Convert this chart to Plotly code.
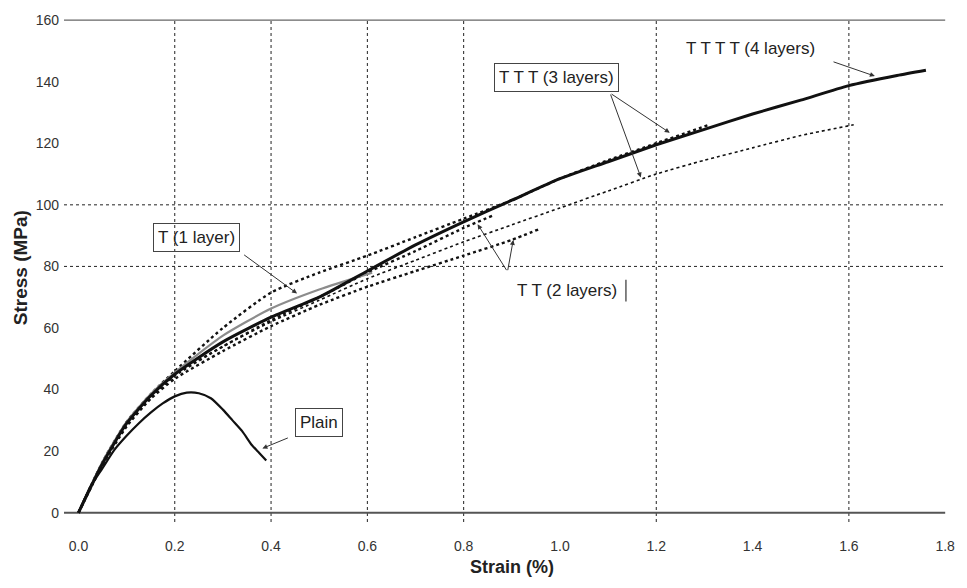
import plotly.graph_objects as go

# ---- stress-strain data (strain in %, stress in MPa) ----
plain_strain = [0, 0.025, 0.05, 0.075, 0.10, 0.125, 0.15, 0.175, 0.20, 0.225, 0.25, 0.275, 0.30, 0.32, 0.34, 0.36, 0.375, 0.39]
plain_stress = [0, 8.5, 14.5, 20.5, 25, 29, 32.5, 35.5, 37.8, 39, 38.8, 37.2, 33.5, 30, 26.5, 22, 19.5, 17]

t1_strain = [0, 0.05, 0.10, 0.15, 0.20, 0.30, 0.40, 0.50, 0.61]
t1_stress = [0, 16.5, 29.5, 38.5, 45.5, 57.5, 66.3, 72.5, 78]

tt_a_strain = [0, 0.05, 0.10, 0.15, 0.20, 0.30, 0.40, 0.50, 0.60, 0.70, 0.80, 0.90, 0.955]
tt_a_stress = [0, 15.5, 28, 37, 43.5, 52.5, 60.6, 67.5, 73.4, 78.5, 83.5, 88.6, 92]

tt_b_strain = [0, 0.05, 0.10, 0.15, 0.20, 0.30, 0.40, 0.50, 0.60, 0.70, 0.80, 0.86]
tt_b_stress = [0, 16, 28.5, 37.5, 44.5, 54, 62.5, 70, 78, 85, 92.5, 96.5]

ttt_a_strain = [0, 0.05, 0.10, 0.15, 0.20, 0.30, 0.40, 0.50, 0.60, 0.70, 0.80, 0.90, 1.00, 1.10, 1.20, 1.31]
ttt_a_stress = [0, 16.5, 29.5, 38.5, 46, 60, 71.5, 78, 83.5, 89.5, 95.5, 101.5, 108.5, 114.5, 120, 126]

ttt_b_strain = [0, 0.05, 0.10, 0.15, 0.20, 0.30, 0.40, 0.50, 0.60, 0.70, 0.80, 0.90, 1.00, 1.10, 1.20, 1.30, 1.40, 1.50, 1.61]
ttt_b_stress = [0, 16, 28.5, 37.5, 45, 54, 62, 69, 76, 82, 88, 93.5, 99, 104.5, 110, 114.5, 118.5, 122.5, 126]

tttt_strain = [0, 0.05, 0.10, 0.15, 0.20, 0.30, 0.40, 0.50, 0.60, 0.70, 0.80, 0.90, 1.00, 1.10, 1.20, 1.30, 1.40, 1.50, 1.60, 1.70, 1.76]
tttt_stress = [0, 16, 29, 38, 45, 55.5, 63.5, 70, 78.5, 87, 94.5, 101.5, 108.5, 114, 119.5, 124.5, 129.5, 134, 138.7, 142, 143.7]

x_ticks = [0, 0.2, 0.4, 0.6, 0.8, 1.0, 1.2, 1.4, 1.6, 1.8]
x_tick_text = ["0.0", "0.2", "0.4", "0.6", "0.8", "1.0", "1.2", "1.4", "1.6", "1.8"]
y_ticks = [0, 20, 40, 60, 80, 100, 120, 140, 160]
x_grid = [0.2, 0.4, 0.6, 0.8, 1.2, 1.6]
y_grid = [80, 100]

W, H = 967, 588
L, R, T, B = 64, 13, 13, 66

INK = "#111111"
FONT = "Liberation Sans, Arial, sans-serif"

fig = go.Figure()

def curve(x, y, color, width, dash="solid"):
    fig.add_trace(go.Scatter(x=x, y=y, mode="lines",
                             line=dict(color=color, width=width, dash=dash, shape="spline", smoothing=0.6),
                             hoverinfo="skip"))

curve(ttt_b_strain, ttt_b_stress, INK, 1.6, "dot")
curve(tt_a_strain, tt_a_stress, INK, 2.4, "dot")
curve(tt_b_strain, tt_b_stress, INK, 2.4, "dot")
curve(ttt_a_strain, ttt_a_stress, INK, 2.4, "dot")
curve(t1_strain, t1_stress, "#8c8c8c", 2.2)
curve(tttt_strain, tttt_stress, INK, 3.0)
curve(plain_strain, plain_stress, INK, 2.2)

shapes = []
# dotted grid
for gx in x_grid:
    shapes.append(dict(type="line", xref="x", yref="y", x0=gx, x1=gx, y0=-3, y1=160,
                       line=dict(color="#222", width=1, dash="dot"), layer="below"))
for gy in y_grid:
    shapes.append(dict(type="line", xref="x", yref="y", x0=-0.03, x1=1.8, y0=gy, y1=gy,
                       line=dict(color="#222", width=1, dash="dot"), layer="below"))
# frame lines at top and bottom
shapes.append(dict(type="line", xref="x", yref="y", x0=-0.03, x1=1.8, y0=160, y1=160,
                   line=dict(color="#666", width=1.2), layer="below"))
shapes.append(dict(type="line", xref="x", yref="y", x0=-0.03, x1=1.8, y0=0, y1=0,
                   line=dict(color="#555", width=1.8), layer="below"))
# bar beside the two-layer label
shapes.append(dict(type="line", xref="x", yref="y", x0=1.137, x1=1.137, y0=68.6, y1=75.7,
                   line=dict(color="#333", width=1.2)))

annotations = []

def label(text, x, y, box=True):
    annotations.append(dict(text=text, x=x, y=y, xref="x", yref="y", showarrow=False,
                            xanchor="center", yanchor="middle",
                            font=dict(family=FONT, size=17, color="#222"),
                            bordercolor="#444" if box else "rgba(0,0,0,0)", borderwidth=1,
                            borderpad=4, bgcolor="rgba(255,255,255,0)"))

def arrow(x0, y0, x1, y1):
    annotations.append(dict(text="", x=x1, y=y1, ax=x0, ay=y0, xref="x", yref="y",
                            axref="x", ayref="y", showarrow=True, arrowhead=2,
                            arrowsize=1, arrowwidth=1, arrowcolor="#333"))

label("T (1 layer)", 0.246, 89.4)
arrow(0.341, 84.1, 0.454, 71.2)

label("T T (2 layers)", 1.014, 72.2, box=False)
arrow(0.891, 78.3, 0.829, 93.7)
arrow(0.891, 78.3, 0.903, 88.6)

label("T T T (3 layers)", 0.992, 141.2)
arrow(1.104, 136.3, 1.228, 123.4)
arrow(1.104, 136.3, 1.168, 108.9)

label("T T T T (4 layers)", 1.395, 150.8, box=False)
arrow(1.565, 146.6, 1.654, 141.8)

label("Plain", 0.5, 29.3)
arrow(0.438, 24.5, 0.382, 20.9)

# axis titles placed in pixel terms
def paper_x(p):
    return (p - L) / (W - L - R)

def paper_y(p):
    return (H - B - p) / (H - T - B)

annotations.append(dict(text="<b>Strain (%)</b>", x=paper_x(514), y=paper_y(567), xref="paper", yref="paper",
                        xanchor="center", yanchor="middle",
                        showarrow=False, font=dict(family=FONT, size=18, color="#222")))
annotations.append(dict(text="<b>Stress (MPa)</b>", x=paper_x(20), y=paper_y(266), xref="paper", yref="paper",
                        xanchor="center", yanchor="middle",
                        showarrow=False, textangle=-90, font=dict(family=FONT, size=19, color="#222")))

fig.update_layout(
    width=W, height=H,
    margin=dict(l=L, r=R, t=T, b=B, pad=0),
    paper_bgcolor="white", plot_bgcolor="white",
    showlegend=False,
    shapes=shapes, annotations=annotations,
    xaxis=dict(range=[-0.03, 1.81], tickvals=x_ticks, ticktext=x_tick_text,
               showgrid=False, zeroline=False, showline=False, ticks="",
               ticklabelstandoff=14,
               tickfont=dict(family=FONT, size=14, color="#333")),
    yaxis=dict(range=[-3, 161], tickvals=y_ticks,
               showgrid=False, zeroline=False, showline=False, ticks="",
               ticklabelstandoff=4,
               tickfont=dict(family=FONT, size=14, color="#333")),
)

fig.write_html("out.html")
